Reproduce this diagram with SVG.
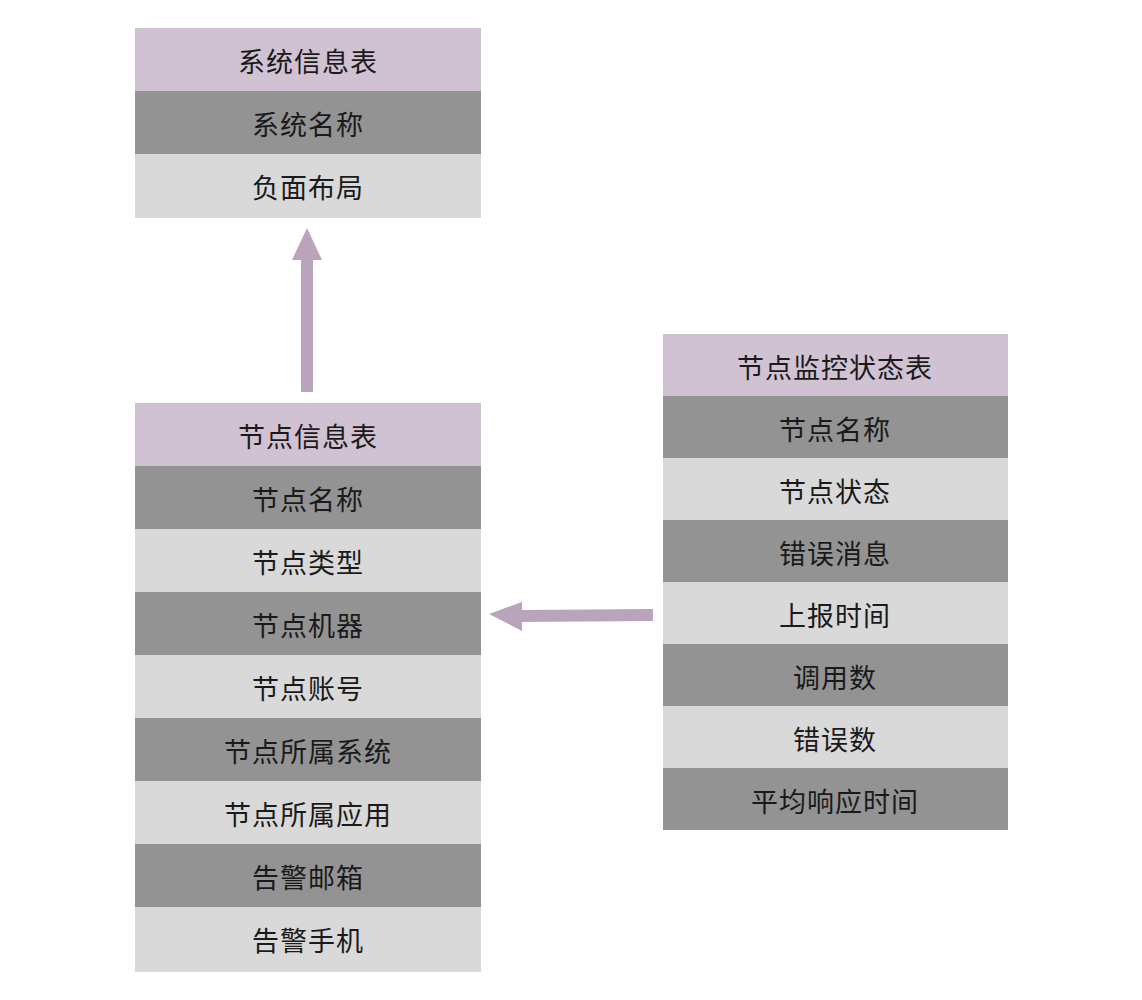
<svg xmlns="http://www.w3.org/2000/svg" width="1142" height="1000" viewBox="0 0 1142 1000">
<style>
.h{fill:#d1c2d3}
.d{fill:#939393}
.l{fill:#d9d9d9}
text{font-family:"Noto Sans CJK SC","Noto Sans",sans-serif;font-size:27px;letter-spacing:1px;fill:#1a1a1a;text-anchor:middle;dominant-baseline:central}
.edge{fill:#b9a4bc}
</style>
<rect width="1142" height="1000" fill="#ffffff"/>
<g id="sys-table">
<rect class="h" x="135" y="28" width="346" height="63"/>
<rect class="d" x="135" y="91" width="346" height="63"/>
<rect class="l" x="135" y="154" width="346" height="64"/>
<text x="308" y="60">系统信息表</text>
<text x="308" y="123">系统名称</text>
<text x="308" y="186">负面布局</text>
</g>
<g id="node-table">
<rect class="h" x="135" y="403" width="346" height="63"/>
<rect class="d" x="135" y="466" width="346" height="63"/>
<rect class="l" x="135" y="529" width="346" height="63"/>
<rect class="d" x="135" y="592" width="346" height="63"/>
<rect class="l" x="135" y="655" width="346" height="63"/>
<rect class="d" x="135" y="718" width="346" height="63"/>
<rect class="l" x="135" y="781" width="346" height="63"/>
<rect class="d" x="135" y="844" width="346" height="63"/>
<rect class="l" x="135" y="907" width="346" height="65"/>
<text x="308" y="435">节点信息表</text>
<text x="308" y="498">节点名称</text>
<text x="308" y="561">节点类型</text>
<text x="308" y="624">节点机器</text>
<text x="308" y="687">节点账号</text>
<text x="308" y="750">节点所属系统</text>
<text x="308" y="813">节点所属应用</text>
<text x="308" y="876">告警邮箱</text>
<text x="308" y="939">告警手机</text>
</g>
<g id="monitor-table">
<rect class="h" x="663" y="334" width="345" height="62"/>
<rect class="d" x="663" y="396" width="345" height="62"/>
<rect class="l" x="663" y="458" width="345" height="62"/>
<rect class="d" x="663" y="520" width="345" height="62"/>
<rect class="l" x="663" y="582" width="345" height="62"/>
<rect class="d" x="663" y="644" width="345" height="62"/>
<rect class="l" x="663" y="706" width="345" height="62"/>
<rect class="d" x="663" y="768" width="345" height="62"/>
<text x="835" y="366">节点监控状态表</text>
<text x="835" y="428">节点名称</text>
<text x="835" y="490">节点状态</text>
<text x="835" y="552">错误消息</text>
<text x="835" y="614">上报时间</text>
<text x="835" y="676">调用数</text>
<text x="835" y="738">错误数</text>
<text x="835" y="800">平均响应时间</text>
</g>
<g id="connectors">
<polygon class="edge" points="301,392 313,392 313,260 322,260 307,228 292,260 301,260"/>
<polygon class="edge" points="653,609 653,621 522,622 522,631 489,614 522,602 522,610"/>
</g>
</svg>
